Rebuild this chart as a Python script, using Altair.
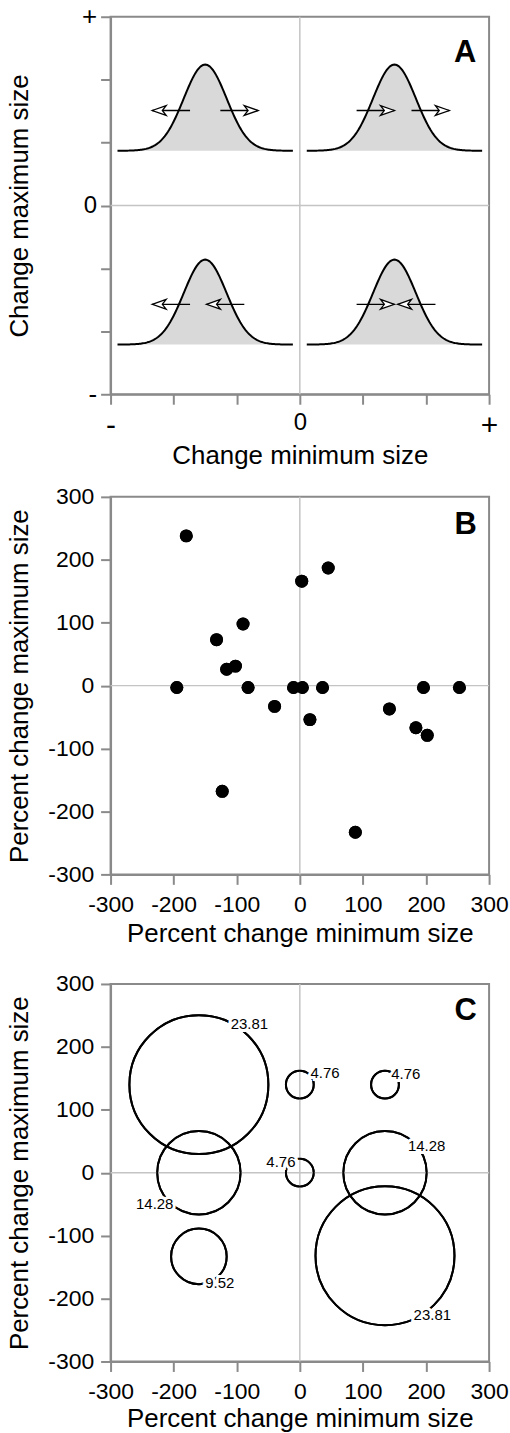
import altair as alt
import numpy as np
import pandas as pd

# ---------------- Panel A (schematic) ----------------
a_curve_id = ["tl", "tr", "bl", "br"]
a_curve_center = [-1.5, 1.5, -1.5, 1.5]
a_curve_base = [0.87, 0.87, -2.21, -2.21]
a_curve_peak = [2.24, 2.24, -0.86, -0.86]
a_curve_sd = 0.34
a_curve_halfspan = 1.39

a_arrow_tail = [-1.74, -1.26, 0.90, 1.77, -1.74, -0.88, 0.90, 2.15]
a_arrow_tip = [-2.34, -0.66, 1.50, 2.37, -2.34, -1.48, 1.50, 1.55]
a_arrow_y = [1.51, 1.51, 1.51, 1.51, -1.57, -1.57, -1.57, -1.57]

a_ticks = [-3, -2, -1, 0, 1, 2, 3]
a_tick_labels = ["-", "", "", "0", "", "", "+"]

# ---------------- Panel B ----------------
b_min_change = [-180, -195, -132, -90, -116, -102, -82, -123, -40, -10, 4, 3, 45,
                16, 36, 142, 184, 202, 196, 253, 88]
b_max_change = [238, -3, 73, 98, 26, 31, -3, -168, -33, -3, -3, 166, 187,
                -54, -3, -37, -67, -79, -3, -3, -233]

# ---------------- Panel C ----------------
c_min_change = [-160, 0, 135, -160, 0, 135, -160, 135]
c_max_change = [140, 140, 140, 0, 0, 0, -133, -132]
c_percent = [23.81, 4.76, 4.76, 14.28, 4.76, 14.28, 9.52, 23.81]
c_label_text = ["23.81", "4.76", "4.76", "14.28", "4.76", "14.28", "9.52", "23.81"]
c_label_x = [-80, 40, 168, -230, -30, 201, -127, 210]
c_label_y = [237, 159, 157, -49, 17, 43, -176, -226]

pct_ticks = [-300, -200, -100, 0, 100, 200, 300]
pct_tick_labels = ["-300", "-200", "-100", "0", "100", "200", "300"]

panel_letters = ["A", "B", "C"]
letter_x = [2.62, 263, 263]
letter_y = [2.42, 256, 257]

# ---------------- style ----------------
FONT = "Liberation Sans"
W, H = 380, 379
AXIS_GRAY = "#8a8a8a"
ZERO_GRAY = "#c4c4c4"


def label_expr(ticks, labels):
    t = ",".join(str(v) for v in ticks)
    l = ",".join("'" + s + "'" for s in labels)
    return f"[{l}][indexof([{t}], datum.value)]"


# ---- Panel A data
grid = np.linspace(-a_curve_halfspan, a_curve_halfspan, 161)
rows = []
for cid, c, b, p in zip(a_curve_id, a_curve_center, a_curve_base, a_curve_peak):
    for g in grid:
        rows.append({"id": cid, "x": c + g, "base": b,
                     "y": b + (p - b) * np.exp(-g * g / (2 * a_curve_sd ** 2))})
curves = pd.DataFrame(rows)
arrows = pd.DataFrame({"tail": a_arrow_tail, "tip": a_arrow_tip, "y": a_arrow_y})
arrows["dir"] = np.where(arrows["tip"] > arrows["tail"], "right", "left")

RIGHT_HEAD = "M0,0L-2,-0.7L-1.45,0L-2,0.7Z"
LEFT_HEAD = "M0,0L2,-0.7L1.45,0L2,0.7Z"

a_xlabel_size = {"condition": {"test": "datum.value == 0", "value": 24}, "value": 30}
a_ylabel_size = {"condition": {"test": "datum.value == 0", "value": 24}, "value": 26}

ax_x = alt.X("x:Q", scale=alt.Scale(domain=[-3, 3], nice=False, zero=False),
             axis=alt.Axis(values=a_ticks, labelExpr=label_expr(a_ticks, a_tick_labels),
                           title="Change minimum size", labelFontSize=a_xlabel_size,
                           labelFlush=False, labelOverlap=False,
                           labelPadding=6, titlePadding=3))
ax_y = alt.Y("y:Q", scale=alt.Scale(domain=[-3, 3], nice=False, zero=False),
             axis=alt.Axis(values=a_ticks, labelExpr=label_expr(a_ticks, a_tick_labels),
                           title="Change maximum size", labelFontSize=a_ylabel_size,
                           labelFlush=False, labelOverlap=False,
                           labelPadding=4, titleX=-83, titleY=H / 2,
                           titleBaseline="alphabetic"))

zeroA = pd.DataFrame({"z": [0]})
a_vzero = alt.Chart(zeroA).mark_rule(color=ZERO_GRAY, strokeWidth=1.5).encode(x=alt.X("z:Q", scale=alt.Scale(domain=[-3, 3], nice=False)))
a_hzero = alt.Chart(zeroA).mark_rule(color=ZERO_GRAY, strokeWidth=1.5).encode(y=alt.Y("z:Q", scale=alt.Scale(domain=[-3, 3], nice=False)))

a_area = alt.Chart(curves).mark_area(color="#d9d9d9", opacity=1).encode(
    x=ax_x, y=ax_y, y2="base:Q", detail="id:N")
a_line = alt.Chart(curves).mark_line(color="black", strokeWidth=2).encode(
    x="x:Q", y="y:Q", detail="id:N")
a_shaft = alt.Chart(arrows).mark_rule(color="black", strokeWidth=1.3).encode(
    x="tail:Q", x2="tip:Q", y="y:Q")
a_head_r = alt.Chart(arrows).transform_filter("datum.dir == 'right'").mark_point(
    shape=RIGHT_HEAD, size=196, filled=True, fill="white", stroke="black",
    strokeWidth=1.3, opacity=1).encode(x="tip:Q", y="y:Q")
a_head_l = alt.Chart(arrows).transform_filter("datum.dir == 'left'").mark_point(
    shape=LEFT_HEAD, size=196, filled=True, fill="white", stroke="black",
    strokeWidth=1.3, opacity=1).encode(x="tip:Q", y="y:Q")
a_letter = alt.Chart(pd.DataFrame({"t": [panel_letters[0]], "x": [letter_x[0]], "y": [letter_y[0]]})).mark_text(
    font=FONT, fontSize=31, fontWeight="bold", color="black", baseline="middle").encode(
    x="x:Q", y="y:Q", text="t:N")

panelA = alt.layer(a_area, a_vzero, a_hzero, a_line, a_shaft, a_head_r, a_head_l, a_letter).properties(
    width=W, height=H)

# ---- Panel B
dfB = pd.DataFrame({"xmin": b_min_change, "xmax": b_max_change})
pct_scale = alt.Scale(domain=[-300, 300], nice=False, zero=False)


def pct_x(title_pad=4):
    return alt.X("xmin:Q", scale=pct_scale,
                 axis=alt.Axis(values=pct_ticks, labelExpr=label_expr(pct_ticks, pct_tick_labels),
                               title="Percent change minimum size", labelFontSize=23,
                               labelFlush=False, labelOverlap=False,
                               labelPadding=9, titlePadding=title_pad))


def pct_y():
    return alt.Y("xmax:Q", scale=pct_scale,
                 axis=alt.Axis(values=pct_ticks, labelExpr=label_expr(pct_ticks, pct_tick_labels),
                               title="Percent change maximum size", labelFontSize=23,
                               labelFlush=False, labelOverlap=False,
                               labelPadding=7, titleX=-83, titleY=H / 2,
                               titleBaseline="alphabetic"))


zeroP = pd.DataFrame({"z": [0]})


def zero_rules():
    v = alt.Chart(zeroP).mark_rule(color=ZERO_GRAY, strokeWidth=1.5).encode(x=alt.X("z:Q", scale=pct_scale))
    h = alt.Chart(zeroP).mark_rule(color=ZERO_GRAY, strokeWidth=1.5).encode(y=alt.Y("z:Q", scale=pct_scale))
    return v, h


b_v, b_h = zero_rules()
b_pts = alt.Chart(dfB).mark_circle(size=169, color="black", opacity=1).encode(x=pct_x(4), y=pct_y())
b_letter = alt.Chart(pd.DataFrame({"t": [panel_letters[1]], "x": [letter_x[1]], "y": [letter_y[1]]})).mark_text(
    font=FONT, fontSize=31, fontWeight="bold", color="black", baseline="middle").encode(
    x=alt.X("x:Q", scale=pct_scale), y=alt.Y("y:Q", scale=pct_scale), text="t:N")
panelB = alt.layer(b_pts, b_v, b_h, b_pts, b_letter).properties(width=W, height=H)

# ---- Panel C
dfC = pd.DataFrame({"xmin": c_min_change, "xmax": c_max_change, "pct": c_percent})
dfL = pd.DataFrame({"lx": c_label_x, "ly": c_label_y, "txt": c_label_text})
c_v, c_h = zero_rules()
c_circ = alt.Chart(dfC).mark_point(shape="circle", filled=False, color="black",
                                   strokeWidth=2, opacity=1).encode(
    x=pct_x(2), y=pct_y(),
    size=alt.Size("pct:Q", scale=alt.Scale(type="pow", exponent=2, domain=[0, 25],
                                           range=[0, 4 * (2.93 * 25) ** 2]), legend=None))
c_halo = alt.Chart(dfL).mark_text(font=FONT, fontSize=15, color="white", stroke="white",
                                  strokeWidth=6, baseline="middle").encode(
    x=alt.X("lx:Q", scale=pct_scale), y=alt.Y("ly:Q", scale=pct_scale), text="txt:N")
c_text = alt.Chart(dfL).mark_text(font=FONT, fontSize=15, color="black",
                                  baseline="middle").encode(
    x=alt.X("lx:Q", scale=pct_scale), y=alt.Y("ly:Q", scale=pct_scale), text="txt:N")
c_letter = alt.Chart(pd.DataFrame({"t": [panel_letters[2]], "x": [letter_x[2]], "y": [letter_y[2]]})).mark_text(
    font=FONT, fontSize=31, fontWeight="bold", color="black", baseline="middle").encode(
    x=alt.X("x:Q", scale=pct_scale), y=alt.Y("y:Q", scale=pct_scale), text="t:N")
panelC = alt.layer(c_circ, c_v, c_h, c_circ, c_halo, c_text, c_letter).properties(width=W, height=H)

top = alt.vconcat(panelA, panelB, spacing=15)
chart = alt.vconcat(top, panelC, spacing=25).properties(
    padding={"left": 5, "top": 0, "right": 0, "bottom": 0},
    background="white",
).configure_axis(
    domainColor=AXIS_GRAY, domainWidth=2, tickColor=AXIS_GRAY, tickWidth=2, tickSize=10,
    grid=False, labelColor="black", titleColor="black", labelFont=FONT, titleFont=FONT,
    titleFontSize=26, titleFontWeight="normal",
).configure_view(stroke=AXIS_GRAY, strokeWidth=2)

chart.save("out.html", embed_options={"renderer": "svg", "actions": False})
